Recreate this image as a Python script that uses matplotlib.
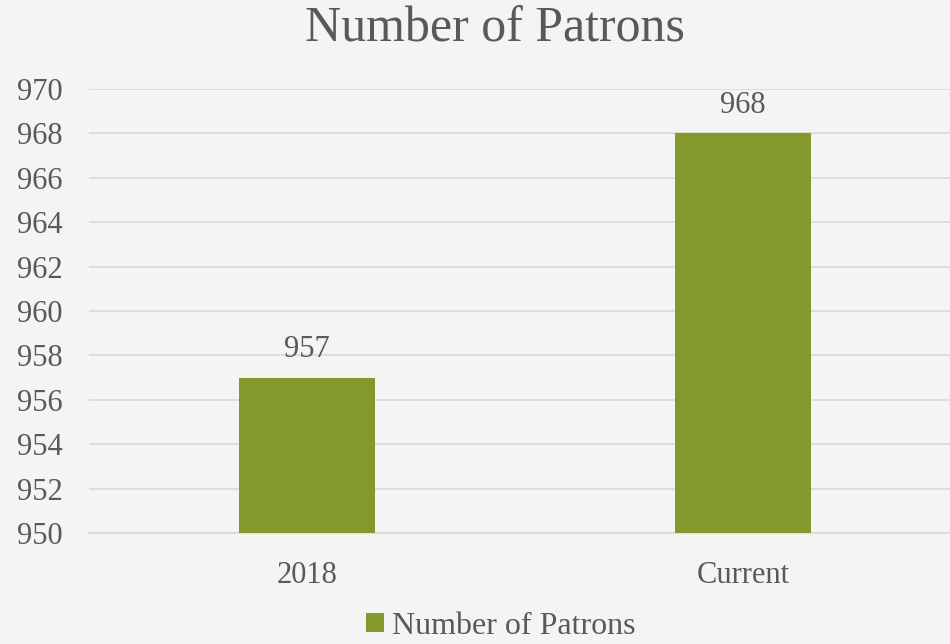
import matplotlib
matplotlib.use("Agg")
import matplotlib.pyplot as plt
from matplotlib.patches import Patch

categories = ["2018", "Current"]
values = [957, 968]
series_name = "Number of Patrons"
yticks = [950, 952, 954, 956, 958, 960, 962, 964, 966, 968, 970]

bg = "#f4f4f4"
bar_color = "#83992b"
text_color = "#595959"
grid_color = "#d9d9d9"

plt.rcParams['font.family'] = ['Liberation Serif', 'DejaVu Serif']

fig = plt.figure(figsize=(9.5, 6.44), dpi=100, facecolor=bg)
ax = fig.add_axes([89/950, 1-533/644, (961-89)/950, (533-89)/644])
ax.set_facecolor(bg)

x = list(range(len(categories)))
bars = ax.bar(x, values, width=0.312, color=bar_color, zorder=3, bottom=0)
ax.set_xlim(-0.5, 1.5)
ax.set_ylim(950, 970)
ax.set_yticks(yticks)
ax.set_yticklabels([str(t) for t in yticks])
ax.set_xticks(x)
ax.set_xticklabels(categories)
ax.yaxis.grid(True, color=grid_color, linewidth=1.2, zorder=0)
ax.set_axisbelow(True)
for s in ax.spines.values():
    s.set_visible(False)
ax.spines['bottom'].set_visible(True)
ax.spines['bottom'].set_color(grid_color)
ax.spines['bottom'].set_linewidth(1.2)
ax.tick_params(axis='both', length=0, labelsize=22, colors=text_color)
ax.tick_params(axis='x', pad=20)
for lbl in ax.get_yticklabels():
    lbl.set_horizontalalignment('left')
ax.yaxis.set_tick_params(pad=0)
for lbl in ax.get_yticklabels():
    lbl.set_x(-72/872)
    lbl.set_transform(ax.get_yaxis_transform())

for xi, v in zip(x, values):
    ax.annotate(str(v), (xi, v), xytext=(0, 10), textcoords='offset points',
                ha='center', va='bottom', fontsize=22, color=text_color)

fig.text(495/950, 1-29/644, series_name, ha='center', va='center', fontsize=36, color=text_color)

handles = [Patch(facecolor=bar_color, label=series_name)]
fig.legend(handles=handles, loc='center', bbox_to_anchor=(0.527, 1-626/644), frameon=False,
           fontsize=23, labelcolor=text_color, handlelength=0.55, handleheight=0.55,
           handletextpad=0.25, borderpad=0.1)

fig.savefig("out.png", dpi=100, facecolor=bg)
